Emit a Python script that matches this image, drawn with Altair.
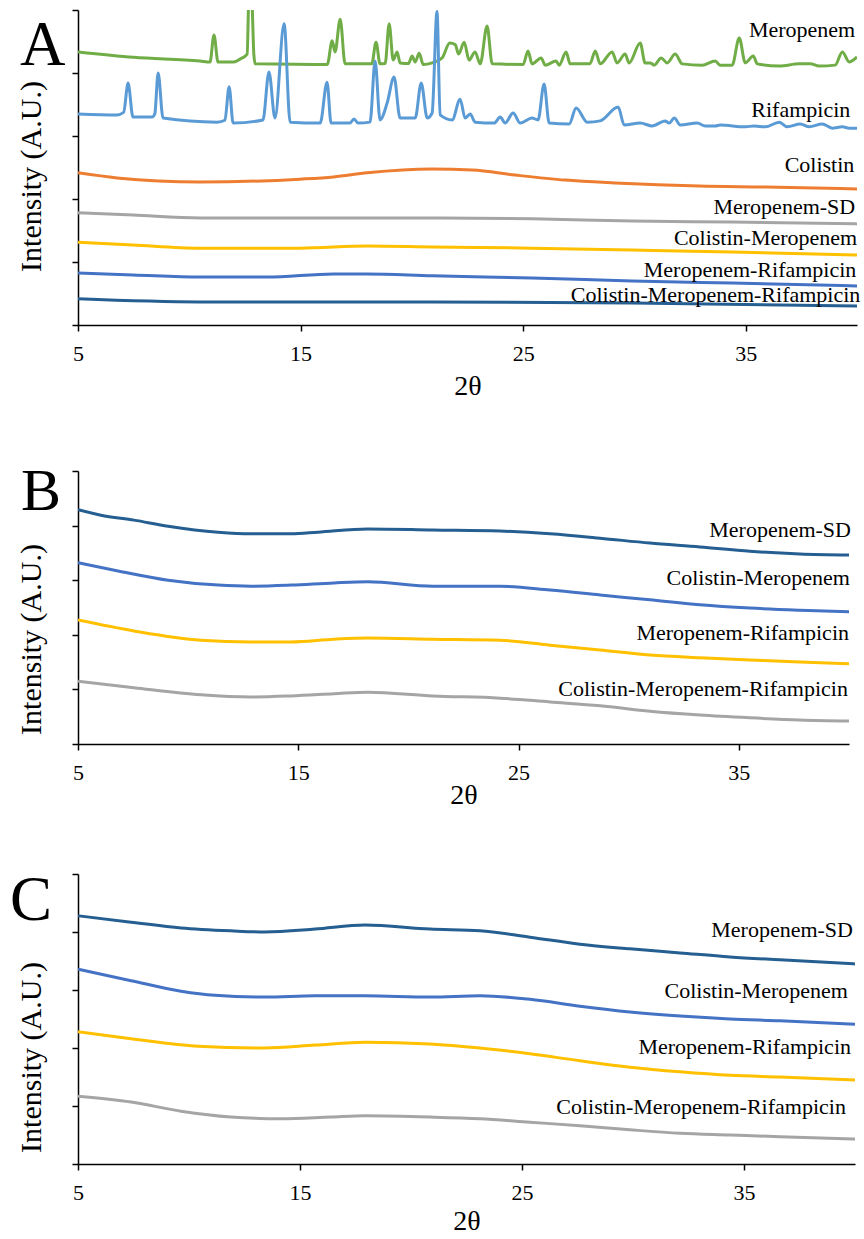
import altair as alt
import pandas as pd

FONT = "Liberation Serif"

# ---------------- Panel A data (2θ, intensity in A.U.) ----------------
A_MERO_X = [5.0, 7.5, 10.48, 10.93, 11.11, 11.29, 12.0, 12.28, 12.6, 12.68, 12.8, 12.9, 12.96, 16.2, 16.42, 16.55,
            16.78, 17.0, 18.2, 18.39, 18.57, 18.8, 18.98, 19.16, 19.34, 19.47, 19.85, 20.01, 20.15, 20.33, 20.51,
            20.91, 21.36, 21.7, 21.95, 22.1, 22.35, 22.57, 22.84, 23.07, 23.38, 23.61, 25.0, 25.22, 25.4, 25.81,
            25.99, 26.48, 26.62, 26.93, 27.11, 28.0, 28.24, 28.46, 29.0, 29.22, 29.58, 29.76, 30.26, 30.48, 30.71,
            30.89, 31.2, 31.47, 31.83, 32.15, 33.04, 33.63, 33.85, 34.39, 34.71, 34.98, 35.34, 35.52, 36.51, 37.4,
            37.9, 38.3, 39.02, 39.34, 39.65, 40.0]
A_MERO_Y = [8.67, 8.50, 8.38, 8.35, 9.21, 8.35, 8.35, 8.44, 8.6, 10.4, 10.4, 8.6, 8.29, 8.27, 9.02, 8.67,
            9.71, 8.29, 8.29, 8.98, 8.29, 8.30, 9.56, 8.41, 8.67, 8.32, 8.30, 8.54, 8.35, 8.63, 8.27,
            8.32, 8.48, 8.95, 8.90, 8.60, 8.98, 8.41, 8.67, 8.29, 9.49, 8.29, 8.27, 8.70, 8.29, 8.48,
            8.25, 8.38, 8.25, 8.67, 8.29, 8.29, 8.70, 8.29, 8.67, 8.32, 8.60, 8.32, 8.95, 8.32, 8.32,
            8.25, 8.48, 8.32, 8.60, 8.29, 8.25, 8.38, 8.25, 8.25, 9.11, 8.32, 8.54, 8.29, 8.22, 8.29,
            8.29, 8.22, 8.25, 8.67, 8.35, 8.51]

A_RIF_X = [5.0, 6.75, 7.05, 7.25, 7.47, 8.33, 8.45, 8.6, 8.82, 11.25, 11.6, 11.79, 11.97, 13.31, 13.58, 13.85,
           14.26, 14.53, 15.88, 16.19, 16.37, 17.22, 17.4, 17.58, 18.12, 18.35, 18.57, 18.89, 19.2, 19.47, 20.15,
           20.42, 20.69, 20.91, 21.13, 21.27, 21.81, 22.17, 22.39, 22.62, 22.84, 23.7, 23.97, 24.19, 24.55, 24.87,
           25.4, 25.67, 25.94, 26.17, 27.07, 27.38, 27.88, 28.46, 29.27, 29.54, 30.26, 30.8, 31.38, 31.56, 31.79,
           32.06, 32.82, 33.18, 33.63, 33.85, 34.98, 35.38, 35.88, 36.51, 36.87, 37.45, 37.85, 38.44, 38.89, 39.34,
           39.65, 40.0]
A_RIF_Y = [6.70, 6.67, 6.75, 7.68, 6.60, 6.60, 6.70, 8.00, 6.57, 6.44, 6.50, 7.56, 6.41, 6.51, 8.03, 6.57,
           9.56, 6.44, 6.41, 7.71, 6.41, 6.41, 6.54, 6.41, 6.44, 8.38, 6.51, 7.05, 7.87, 6.57, 6.57,
           7.68, 6.57, 6.73, 9.95, 6.67, 6.51, 7.17, 6.57, 6.70, 6.44, 6.41, 6.60, 6.41, 6.73, 6.41,
           6.57, 6.51, 7.65, 6.41, 6.38, 6.89, 6.44, 6.48, 6.92, 6.35, 6.41, 6.32, 6.48, 6.41, 6.57,
           6.35, 6.41, 6.32, 6.32, 6.35, 6.29, 6.32, 6.29, 6.44, 6.29, 6.38, 6.29, 6.38, 6.25, 6.29,
           6.25, 6.25]

A_COL_X = [5.0, 6.75, 10.48, 14.98, 16.48, 18.0, 20.91, 22.71, 24.64, 26.89, 29.13, 32.91, 35.88, 40.0]
A_COL_Y = [4.83, 4.67, 4.54, 4.63, 4.70, 4.83, 4.95, 4.92, 4.76, 4.60, 4.51, 4.41, 4.38, 4.32]

A_MSD_X = [5.0, 7.47, 10.48, 14.98, 20.91, 25.4, 29.9, 34.39, 40.0]
A_MSD_Y = [3.56, 3.49, 3.40, 3.40, 3.40, 3.37, 3.30, 3.27, 3.21]

A_CM_X = [5.0, 7.47, 10.48, 14.98, 17.99, 20.91, 25.4, 29.9, 34.39, 40.0]
A_CM_Y = [2.63, 2.54, 2.44, 2.44, 2.51, 2.48, 2.44, 2.38, 2.32, 2.22]

A_MR_X = [5.0, 7.47, 10.48, 13.49, 16.48, 17.99, 20.91, 25.4, 29.9, 34.39, 40.0]
A_MR_Y = [1.65, 1.59, 1.52, 1.52, 1.62, 1.62, 1.56, 1.49, 1.40, 1.33, 1.24]

A_CMR_X = [5.0, 10.48, 14.98, 20.91, 29.9, 40.0]
A_CMR_Y = [0.83, 0.73, 0.73, 0.73, 0.70, 0.60]

A_LABELS = ["Meropenem", "Rifampicin", "Colistin", "Meropenem-SD", "Colistin-Meropenem",
            "Meropenem-Rifampicin", "Colistin-Meropenem-Rifampicin"]
A_LABEL_X = [39.92, 39.70, 39.88, 39.92, 40.01, 39.97, 40.15]
A_LABEL_Y = [9.37, 6.83, 5.08, 3.75, 2.76, 1.75, 0.95]

# ---------------- Panel B data ----------------
B_MSD_X = [5.0, 6.04, 7.54, 9.09, 11.36, 12.85, 14.67, 15.89, 18.16, 21.11, 24.16, 26.43, 28.70, 30.96, 33.23, 35.50, 37.77, 40.0]
B_MSD_Y = [4.29, 4.19, 4.10, 3.99, 3.88, 3.85, 3.85, 3.88, 3.94, 3.92, 3.90, 3.85, 3.77, 3.68, 3.61, 3.53, 3.48, 3.46]

B_CM_X = [5.0, 6.82, 9.09, 11.36, 12.85, 14.67, 16.62, 18.16, 21.11, 24.16, 26.43, 28.70, 30.96, 33.23, 35.50, 37.77, 40.0]
B_CM_Y = [3.32, 3.17, 3.00, 2.91, 2.89, 2.91, 2.95, 2.97, 2.89, 2.89, 2.82, 2.73, 2.64, 2.55, 2.49, 2.45, 2.42]

B_MR_X = [5.0, 7.54, 10.58, 12.85, 14.67, 16.62, 18.16, 21.11, 24.16, 26.43, 28.70, 30.96, 33.23, 35.50, 37.77, 40.0]
B_MR_Y = [2.27, 2.07, 1.90, 1.87, 1.87, 1.92, 1.94, 1.92, 1.90, 1.81, 1.72, 1.63, 1.58, 1.54, 1.50, 1.47]

B_CMR_X = [5.0, 7.54, 10.58, 12.85, 14.67, 16.62, 18.16, 21.11, 24.16, 26.43, 28.70, 30.96, 33.23, 35.50, 37.77, 40.0]
B_CMR_Y = [1.15, 1.03, 0.90, 0.86, 0.88, 0.92, 0.95, 0.88, 0.84, 0.77, 0.70, 0.60, 0.53, 0.48, 0.44, 0.42]

B_LABELS = ["Meropenem-SD", "Colistin-Meropenem", "Meropenem-Rifampicin", "Colistin-Meropenem-Rifampicin"]
B_LABEL_X = [40.09, 40.04, 40.0, 39.95]
B_LABEL_Y = [3.92, 3.04, 2.03, 1.01]

# ---------------- Panel C data ----------------
C_MSD_X = [5.0, 7.39, 9.64, 11.89, 13.42, 15.68, 17.93, 20.86, 23.11, 25.36, 27.61, 29.86, 32.12, 34.37, 36.62, 40.0]
C_MSD_Y = [4.28, 4.17, 4.07, 4.02, 4.00, 4.05, 4.12, 4.05, 4.02, 3.91, 3.79, 3.71, 3.64, 3.57, 3.52, 3.45]

C_CM_X = [5.0, 7.39, 9.64, 11.17, 13.42, 15.68, 17.93, 20.86, 23.11, 25.36, 27.61, 29.86, 32.12, 34.37, 36.62, 40.0]
C_CM_Y = [3.36, 3.16, 2.98, 2.91, 2.88, 2.90, 2.90, 2.88, 2.90, 2.84, 2.72, 2.62, 2.55, 2.50, 2.47, 2.41]

C_MR_X = [5.0, 7.39, 10.41, 13.42, 15.68, 17.93, 20.86, 23.11, 25.36, 27.61, 29.86, 32.12, 34.37, 36.62, 40.0]
C_MR_Y = [2.28, 2.16, 2.03, 2.00, 2.05, 2.10, 2.07, 2.00, 1.90, 1.78, 1.67, 1.59, 1.53, 1.50, 1.45]

C_CMR_X = [5.0, 7.39, 9.64, 11.89, 14.14, 16.40, 17.93, 20.86, 23.11, 25.36, 27.61, 29.86, 32.12, 34.37, 36.62, 40.0]
C_CMR_Y = [1.17, 1.07, 0.91, 0.81, 0.78, 0.81, 0.83, 0.81, 0.78, 0.72, 0.66, 0.59, 0.53, 0.50, 0.47, 0.43]

C_LABELS = ["Meropenem-SD", "Colistin-Meropenem", "Meropenem-Rifampicin", "Colistin-Meropenem-Rifampicin"]
C_LABEL_X = [39.91, 39.68, 39.82, 39.59]
C_LABEL_Y = [4.03, 2.98, 2.02, 0.98]

X_TICKS = [5, 15, 25, 35]

# ---------------- styles ----------------
GREEN, LBLUE, ORANGE, GRAY, YELLOW, BLUE, DBLUE = "#70AD47", "#5B9BD5", "#ED7D31", "#A5A5A5", "#FFC000", "#4472C4", "#255E91"


def panel(series, labels, lx, ly, ymax, width, height, letter, letter_x, letter_y, letter_size,
          ytitle_y, xtitle_y):
    x_enc = alt.X("x:Q", scale=alt.Scale(domain=[5, 40], nice=False, zero=False),
                  axis=alt.Axis(values=X_TICKS, format="d", title="2θ", titleFont=FONT, titleFontSize=28,
                                titleY=xtitle_y, titleBaseline="middle", labelFont=FONT, labelFontSize=22,
                                labelPadding=12, tickSize=6, labelFlush=False))
    y_enc = alt.Y("y:Q", scale=alt.Scale(domain=[0, ymax], nice=False, zero=False),
                  axis=alt.Axis(values=list(range(ymax + 1)), labels=False, tickSize=6,
                                title="Intensity (A.U.)", titleFont=FONT, titleFontSize=30, titleX=-38,
                                titleY=ytitle_y, titleAlign="center", titleBaseline="alphabetic",
                                titleAngle=270))
    layers = []
    for i, (xs, ys, color) in enumerate(series):
        df = pd.DataFrame({"x": xs, "y": ys})
        enc = {"x": x_enc, "y": y_enc} if i == 0 else {"x": "x:Q", "y": "y:Q"}
        layers.append(alt.Chart(df).mark_line(color=color, strokeWidth=3, clip=True,
                                              interpolate="monotone").encode(**enc))
    lab = pd.DataFrame({"label": labels, "x": lx, "y": ly})
    layers.append(alt.Chart(lab).mark_text(align="right", baseline="middle", font=FONT,
                                           fontSize=22, color="black").encode(
        x="x:Q", y="y:Q", text="label:N"))
    layers.append(alt.Chart(pd.DataFrame({"t": [letter]})).mark_text(
        align="left", baseline="alphabetic", font=FONT, fontSize=letter_size, color="black").encode(
        text="t:N", x=alt.value(letter_x), y=alt.value(letter_y)))
    return alt.layer(*layers).properties(width=width, height=height)


pa = panel([(A_MERO_X, A_MERO_Y, GREEN), (A_RIF_X, A_RIF_Y, LBLUE), (A_COL_X, A_COL_Y, ORANGE),
            (A_MSD_X, A_MSD_Y, GRAY), (A_CM_X, A_CM_Y, YELLOW), (A_MR_X, A_MR_Y, BLUE),
            (A_CMR_X, A_CMR_Y, DBLUE)],
           A_LABELS, A_LABEL_X, A_LABEL_Y, 10, 779, 315, "A", -58, 55, 63, 166, 61)

pb = panel([(B_MSD_X, B_MSD_Y, DBLUE), (B_CM_X, B_CM_Y, BLUE), (B_MR_X, B_MR_Y, YELLOW),
            (B_CMR_X, B_CMR_Y, GRAY)],
           B_LABELS, B_LABEL_X, B_LABEL_Y, 5, 771, 273, "B", -57, 39, 60, 168, 51)

pc = panel([(C_MSD_X, C_MSD_Y, DBLUE), (C_CM_X, C_CM_Y, BLUE), (C_MR_X, C_MR_Y, YELLOW),
            (C_CMR_X, C_CMR_Y, GRAY)],
           C_LABELS, C_LABEL_X, C_LABEL_Y, 5, 777, 290, "C", -68, 46, 63, 183, 57)

chart = alt.vconcat(pa, alt.vconcat(pb, pc, spacing=61), spacing=62).properties(
    padding={"left": 10, "top": 9, "right": 2, "bottom": 2}
).configure_view(stroke=None).configure_axis(
    labelFont=FONT, titleFont=FONT, labelColor="black", titleColor="black",
    domainColor="black", tickColor="black", domainWidth=1.5, tickWidth=1.5,
    grid=False, titleFontWeight="normal"
).configure_text(font=FONT)

chart.save("out.html", embed_options={"renderer": "svg", "actions": False})
